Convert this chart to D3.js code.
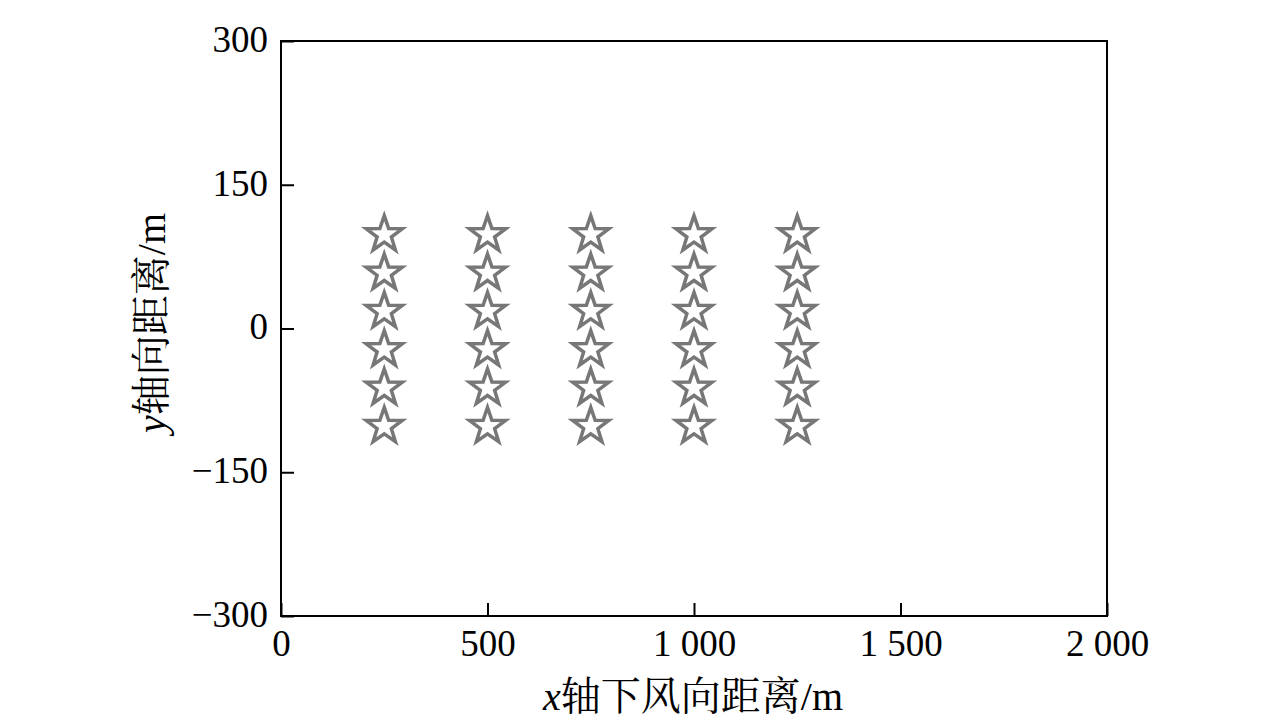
<!DOCTYPE html>
<html>
<head>
<meta charset="utf-8">
<script src="https://cdn.jsdelivr.net/npm/d3@7"></script>
<style>
html,body{margin:0;padding:0;background:#fff;}
svg{display:block;}
text{font-family:"Liberation Serif","Times New Roman","Noto Serif CJK SC","Noto Sans CJK SC",serif;fill:#000;}
</style>
</head>
<body>
<svg id="chart" width="1276" height="723"></svg>
<script>
// Data
const xPositions = [250, 500, 750, 1000, 1250];
const yPositions = [100, 60, 20, -20, -60, -100];
const xTicks = [0, 500, 1000, 1500, 2000];
const xTickLabels = ["0", "500", "1 000", "1 500", "2 000"];
const yTicks = [300, 150, 0, -150, -300];
const yTickLabels = ["300", "150", "0", "\u2212150", "\u2212300"];
const xTitle = "轴下风向距离/m";
const yTitle = "轴向距离/m";

(function(){
const points = [];
xPositions.forEach(x => yPositions.forEach(y => points.push({x, y})));

const svg = d3.select("#chart");
const mL = 281, mR = 1107, mT = 41, mB = 616;
const x = d3.scaleLinear().domain([0, 2000]).range([mL, mR]);
const y = d3.scaleLinear().domain([-300, 300]).range([mB, mT]);

svg.append("rect").attr("x", mL).attr("y", mT)
  .attr("width", mR - mL).attr("height", mB - mT)
  .attr("fill", "none").attr("stroke", "#000").attr("stroke-width", 2);

const xAxis = d3.axisBottom(x).tickValues(xTicks)
  .tickFormat((d, i) => xTickLabels[i]).tickSizeInner(-13).tickSizeOuter(0).tickPadding(14);
const gx = svg.append("g").attr("transform", `translate(0,${mB})`).call(xAxis);
gx.select(".domain").remove();
gx.selectAll(".tick line").attr("stroke", "#000").attr("stroke-width", 2);
gx.selectAll(".tick text").attr("font-size", 37).attr("dy", "0.71em")
  .style("font-family", '"Liberation Serif","Times New Roman",serif');

const yAxis = d3.axisLeft(y).tickValues(yTicks)
  .tickFormat((d, i) => yTickLabels[i]).tickSizeInner(-13).tickSizeOuter(0).tickPadding(13);
const gy = svg.append("g").attr("transform", `translate(${mL},0)`).call(yAxis);
gy.select(".domain").remove();
gy.selectAll(".tick line").attr("stroke", "#000").attr("stroke-width", 2);
gy.selectAll(".tick text").attr("font-size", 37).attr("dy", "0.28em")
  .style("font-family", '"Liberation Serif","Times New Roman",serif');

function starPath(R, r) {
  const pts = [];
  for (let i = 0; i < 10; i++) {
    const a = -Math.PI / 2 + i * Math.PI / 5;
    const rr = i % 2 === 0 ? R : r;
    pts.push([rr * Math.cos(a), rr * Math.sin(a)]);
  }
  return "M" + pts.map(p => p[0].toFixed(2) + "," + p[1].toFixed(2)).join("L") + "Z";
}
const sp = starPath(19, 7.5);
svg.append("g").selectAll("path").data(points).join("path")
  .attr("d", sp)
  .attr("transform", d => `translate(${x(d.x)},${y(d.y) + 2})`)
  .attr("fill", "none").attr("stroke", "#777").attr("stroke-width", 3.5)
  .attr("stroke-linejoin", "miter");

const xt = svg.append("text").attr("x", 693).attr("y", 710)
  .attr("text-anchor", "middle").attr("font-size", 40);
xt.append("tspan").attr("font-style", "italic").text("x");
xt.append("tspan").text(xTitle);

const yt = svg.append("text")
  .attr("transform", `translate(165,323) rotate(-90)`)
  .attr("text-anchor", "middle").attr("font-size", 40);
yt.append("tspan").attr("font-style", "italic").text("y");
yt.append("tspan").text(yTitle);
})();
</script>
</body>
</html>
